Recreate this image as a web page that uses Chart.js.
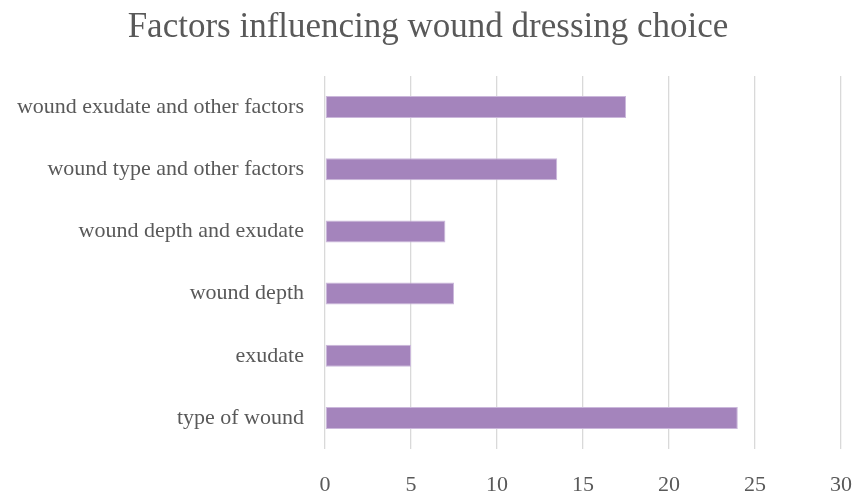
<!DOCTYPE html>
<html>
<head>
<meta charset="utf-8">
<script src="https://cdn.jsdelivr.net/npm/chart.js@4/dist/chart.umd.min.js"></script>
<style>
  html, body { margin: 0; padding: 0; background: #ffffff; }
  #wrap { width: 854px; height: 494px; }
</style>
</head>
<body>
<div id="wrap"><canvas id="factorsChart"></canvas></div>
<script>
// Data
const factorLabels = [
  'wound exudate and other factors',
  'wound type and other factors',
  'wound depth and exudate',
  'wound depth',
  'exudate',
  'type of wound'
];
const factorValues = [17.5, 13.5, 7, 7.5, 5, 24];
const axisMin = 0;
const axisMax = 30;
const axisStep = 5;

const textGrey = '#595959';
const serifFont = "'Liberation Serif', 'Times New Roman', serif";

new Chart(document.getElementById('factorsChart'), {
  type: 'bar',
  data: {
    labels: factorLabels,
    datasets: [{
      data: factorValues,
      backgroundColor: '#A484BC',
      borderColor: '#CBB8DB',
      borderWidth: 1,
      borderSkipped: false,
      categoryPercentage: 1,
      barPercentage: 0.355
    }]
  },
  options: {
    indexAxis: 'y',
    responsive: true,
    maintainAspectRatio: false,
    animation: false,
    // a bit of left padding nudges the centred title right, like the original
    layout: { padding: { left: 15, right: 13, top: 0, bottom: 0 } },
    plugins: {
      legend: { display: false },
      tooltip: { enabled: false },
      title: {
        display: true,
        text: 'Factors influencing wound dressing choice',
        color: textGrey,
        font: { family: serifFont, size: 35, weight: 'normal' },
        padding: { top: 7, bottom: 27 }
      }
    },
    scales: {
      x: {
        min: axisMin,
        max: axisMax,
        ticks: {
          stepSize: axisStep,
          color: textGrey,
          padding: 23,
          font: { family: serifFont, size: 22 }
        },
        grid: { color: '#D9D9D9', lineWidth: 1.3, drawTicks: false },
        border: { display: false },
        afterFit: (scale) => {
          scale.height = 45;
          scale.paddingLeft = 0;
          scale.paddingRight = 0;
        }
      },
      y: {
        ticks: {
          color: textGrey,
          padding: 21,
          font: { family: serifFont, size: 22 }
        },
        grid: { display: false, drawTicks: false },
        border: { display: false },
        afterFit: (scale) => {
          scale.width = 310;
          scale.paddingTop = 0;
          scale.paddingBottom = 0;
        }
      }
    }
  }
});
</script>
</body>
</html>
